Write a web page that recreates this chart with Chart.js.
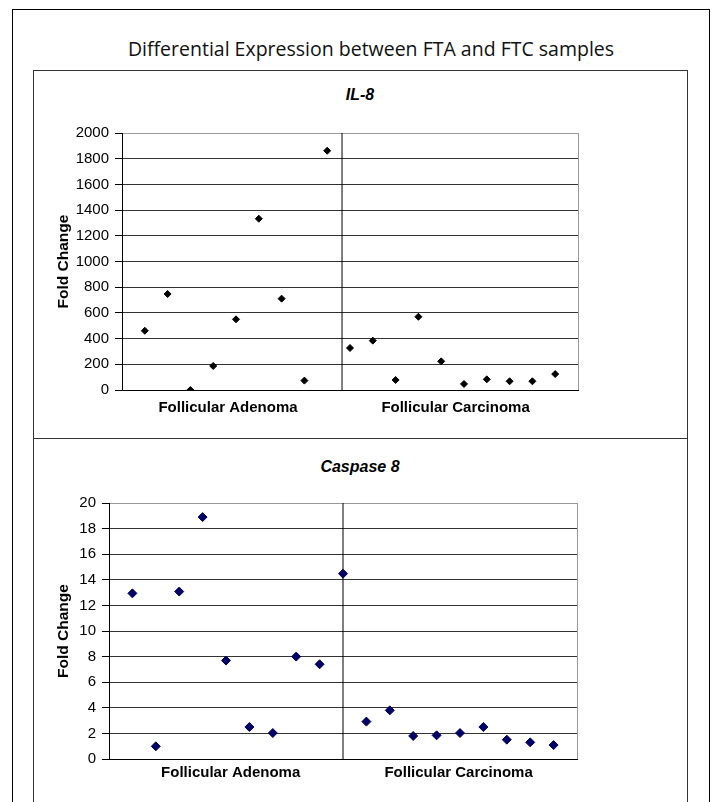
<!DOCTYPE html>
<html>
<head>
<meta charset="utf-8">
<script src="https://cdn.jsdelivr.net/npm/chart.js"></script>
<style>
  html, body { margin: 0; padding: 0; background: #fff; overflow: hidden; }
  body { width: 715px; height: 802px; position: relative; }
  .outer { position: absolute; left: 12px; top: 9px; width: 696px; height: 820px; border: 1px solid #000; }
  .inner { position: absolute; left: 33px; top: 70px; width: 653px; height: 760px; border: 1px solid #333; }
  .divider { position: absolute; left: 33px; top: 438px; width: 654px; height: 1px; background: #333; }
  .main-title { position: absolute; left: 14px; width: 714px; top: 35px; text-align: center;
    font-family: "Open Sans", sans-serif; font-size: 19.5px; color: #111; }
  .sub-title { position: absolute; left: 34px; width: 652px; text-align: center;
    font-family: "Liberation Sans", Arial, sans-serif; font-size: 16px; font-weight: bold; font-style: italic; color: #000; }
  canvas { position: absolute; left: 34px; }
</style>
</head>
<body>
<div class="outer"></div>
<div class="inner"></div>
<div class="divider"></div>
<div class="main-title">Differential Expression between FTA and FTC samples</div>
<div class="sub-title" style="top:86px">IL-8</div>
<div class="sub-title" style="top:458px">Caspase 8</div>
<canvas id="il8Chart" width="652" height="367" style="top:71px"></canvas>
<canvas id="casp8Chart" width="652" height="362" style="top:440px"></canvas>

<script>
(function() {
    'use strict';

    // ─── DATA ───────────────────────────────────────────────
    const groupNames = ['Follicular Adenoma', 'Follicular Carcinoma'];
    const sampleIndex = [1, 2, 3, 4, 5, 6, 7, 8, 9, 10, 11, 12, 13, 14, 15, 16, 17, 18, 19];
    const il8Values = [461, 747, 0, 187, 550, 1333, 711, 73, 1862, 327, 384, 78, 570, 223, 47, 83, 68, 68, 124];
    const casp8Values = [12.94, 0.99, 13.08, 18.9, 7.69, 2.5, 2.03, 8.0, 7.4, 14.48, 2.92, 3.8, 1.8, 1.85, 2.03, 2.5, 1.51, 1.3, 1.09];
    const il8Ticks = [0, 200, 400, 600, 800, 1000, 1200, 1400, 1600, 1800, 2000];
    const casp8Ticks = [0, 2, 4, 6, 8, 10, 12, 14, 16, 18, 20];

    const FONT = '"Liberation Sans", Arial, sans-serif';

    // grey frame on the right side of the plot area
    const framePlugin = {
        id: 'frame',
        beforeDatasetsDraw(chart) {
            const { ctx, chartArea: a } = chart;
            ctx.save();
            ctx.strokeStyle = '#999';
            ctx.lineWidth = 1;
            ctx.beginPath();
            ctx.moveTo(Math.round(a.right) + 0.5, a.top);
            ctx.lineTo(Math.round(a.right) + 0.5, a.bottom);
            ctx.stroke();
            ctx.restore();
        }
    };

    function buildChart(canvasId, values, ticks, opts) {
        const ctx = document.getElementById(canvasId).getContext('2d');
        const maxY = ticks[ticks.length - 1];
        return new Chart(ctx, {
            type: 'scatter',
            data: {
                datasets: [
                    {
                        data: sampleIndex.map((x, i) => ({ x: x, y: values[i] })),
                        pointStyle: 'rectRot',
                        pointRadius: opts.pointRadius,
                        pointHoverRadius: opts.pointRadius,
                        backgroundColor: opts.pointColor,
                        borderColor: opts.pointColor,
                        borderWidth: 1,
                        order: 1
                    },
                    {
                        // vertical split between adenoma and carcinoma samples
                        type: 'line',
                        data: [{ x: opts.splitAt, y: 0 }, { x: opts.splitAt, y: maxY }],
                        borderColor: '#000',
                        borderWidth: 1,
                        pointRadius: 0,
                        fill: false,
                        order: 2
                    }
                ]
            },
            options: {
                responsive: false,
                devicePixelRatio: 1,
                animation: false,
                events: [],
                layout: { padding: { left: 0, right: opts.padRight, top: opts.padTop, bottom: 0 } },
                plugins: { legend: { display: false }, tooltip: { enabled: false }, title: { display: false } },
                scales: {
                    x: {
                        type: 'linear', min: 0, max: 20,
                        grid: { display: false },
                        border: { display: true, color: '#000', width: 1 },
                        afterFit: (s) => { s.height = opts.xHeight; },
                        afterBuildTicks: (s) => { s.ticks = opts.labelAt.map(v => ({ value: v })); },
                        ticks: {
                            autoSkip: false, maxRotation: 0, padding: opts.xPad, color: '#000',
                            font: { family: FONT, size: 15, weight: 'bold' },
                            callback: (v, i) => groupNames[i]
                        }
                    },
                    y: {
                        min: 0, max: maxY,
                        afterFit: (s) => { s.width = opts.yWidth; },
                        afterBuildTicks: (s) => { s.ticks = ticks.map(v => ({ value: v })); },
                        grid: {
                            color: (c) => (c.tick && c.tick.value === maxY) ? '#999' : '#333',
                            tickColor: '#000',
                            tickLength: 7,
                            lineWidth: 1
                        },
                        border: { display: true, color: '#000', width: 1 },
                        ticks: {
                            padding: 6, color: '#000',
                            font: { family: FONT, size: 15 },
                            callback: (v) => String(v)
                        },
                        title: {
                            display: true, text: 'Fold Change', color: '#000',
                            font: { family: FONT, size: 15.5, weight: 'bold' },
                            padding: { top: 20, bottom: 0 }
                        }
                    }
                }
            },
            plugins: [framePlugin]
        });
    }

    buildChart('il8Chart', il8Values, il8Ticks, {
        pointRadius: 3.5, pointColor: '#000', splitAt: 9.65,
        labelAt: [4.65, 14.63], xPad: 1,
        padRight: 108, padTop: 62, yWidth: 88, xHeight: 48
    });

    buildChart('casp8Chart', casp8Values, casp8Ticks, {
        pointRadius: 4.5, pointColor: '#000066', splitAt: 10,
        labelAt: [5.2, 14.94], xPad: -3,
        padRight: 109, padTop: 63, yWidth: 75, xHeight: 43
    });
})();
</script>
</body>
</html>
